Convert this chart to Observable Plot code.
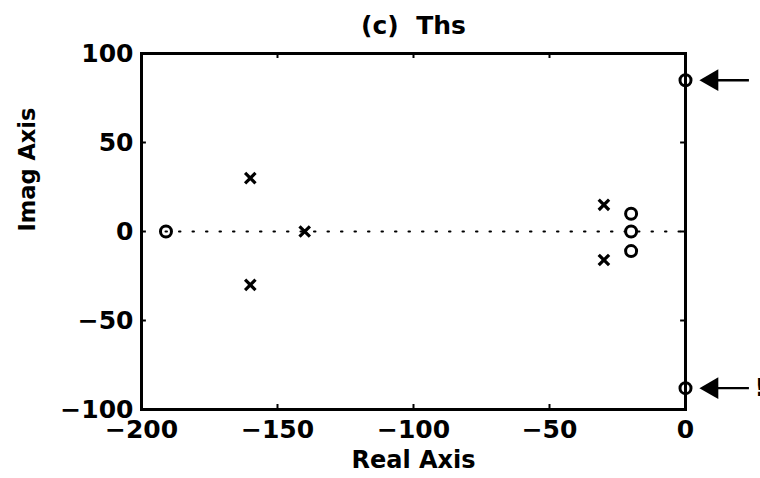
<!DOCTYPE html>
<html>
<head>
<meta charset="utf-8">
<script src="https://cdn.jsdelivr.net/npm/d3@7"></script>
<script src="https://cdn.jsdelivr.net/npm/@observablehq/plot@0.6"></script>
<style>
  html, body { margin: 0; padding: 0; background: #fff; }
  svg { display: block; }
</style>
</head>
<body>
<div id="chart"></div>
<script>
// Poles (x) and zeros (o) of "Ths"
const poleRe = [-160, -160, -140, -30, -30];
const poleIm = [30, -30, 0, 15, -16];
const zeroRe = [-191, -20, -20, -20, 0, 0];
const zeroIm = [0, 10, 0, -11, 85, -88];

// Axis ticks
const xTicks = [-200, -150, -100, -50, 0];
const yTicks = [-100, -50, 0, 50, 100];
const xTickLabels = ["\u2212200", "\u2212150", "\u2212100", "\u221250", "0"];
const yTickLabels = ["\u2212100", "\u221250", "0", "50", "100"];

// Annotation arrows pointing at the imaginary-axis zeros
const arrowIm = [85, -88];
const arrowNote = ["", "!"];

const title = "(c)  Ths";
const xLabel = "Real Axis";
const yLabel = "Imag Axis";

const poles = poleRe.map((re, i) => ({re, im: poleIm[i]}));
const zeros = zeroRe.map((re, i) => ({re, im: zeroIm[i]}));
const arrows = arrowIm.map((im, i) => ({re: 0, im, note: arrowNote[i]}));
const font = "'DejaVu Sans', 'Liberation Sans', Arial, sans-serif";
const xFmt = d => xTickLabels[xTicks.indexOf(d)];
const yFmt = d => yTickLabels[yTicks.indexOf(d)];
const innerX = xTicks.slice(1, -1);
const innerY = yTicks.slice(1, -1);

const chart = Plot.plot({
  width: 760,
  height: 478,
  marginLeft: 141,
  marginRight: 75,
  marginTop: 53,
  marginBottom: 69,
  style: {fontFamily: font, background: "#fff", color: "#000", overflow: "visible"},
  x: {type: "linear", domain: [-200, 0], axis: null, label: null},
  y: {type: "linear", domain: [-100, 100], axis: null, label: null},
  marks: [
    // dotted real axis
    Plot.ruleY([0], {x1: d3.min(zeroRe.concat(poleRe)), x2: 0, stroke: "#000", strokeWidth: 2, strokeDasharray: "1.5,12", strokeLinecap: "round"}),
    // inward tick marks on all four sides
    Plot.ruleX(innerX, {x: d => d, y1: -100, y2: -97.2, stroke: "#000", strokeWidth: 2}),
    Plot.ruleX(innerX, {x: d => d, y1: 100, y2: 97.2, stroke: "#000", strokeWidth: 2}),
    Plot.ruleY(innerY, {y: d => d, x1: -200, x2: -198.2, stroke: "#000", strokeWidth: 2}),
    Plot.ruleY(innerY, {y: d => d, x1: 0, x2: -1.8, stroke: "#000", strokeWidth: 2}),
    Plot.frame({stroke: "#000", strokeWidth: 3}),
    Plot.axisX(xTicks, {anchor: "bottom", tickSize: 0, tickPadding: 11, tickFormat: xFmt, fontSize: 25, fontWeight: "bold", label: null}),
    Plot.axisY(yTicks, {anchor: "left", tickSize: 0, tickPadding: 8, tickFormat: yFmt, fontSize: 25, fontWeight: "bold", label: null}),
    // poles and zeros
    Plot.dot(poles, {x: "re", y: "im", symbol: "times", r: 4.8, stroke: "#000", strokeWidth: 3.2}),
    Plot.dot(zeros, {x: "re", y: "im", symbol: "circle", r: 5.5, stroke: "#000", strokeWidth: 3, fill: "none"}),
    // arrows
    Plot.ruleY(arrows, {y: "im", x1: d => d.re + 9, x2: d => d.re + 23.5, stroke: "#000", strokeWidth: 2.4}),
    Plot.dot(arrows, {x: "re", y: "im", dx: 26.5, symbol: "triangle", rotate: -90, r: 8.1, fill: "#000", stroke: "none"}),
    Plot.text(arrows, {x: "re", y: "im", text: "note", dx: 69, textAnchor: "start", lineAnchor: "middle", fontSize: 25, fontWeight: "bold", fill: "#000"}),
    // labels
    Plot.text([title], {frameAnchor: "top", dy: -28, lineAnchor: "middle", fontSize: 25, fontWeight: "bold"}),
    Plot.text([xLabel], {frameAnchor: "bottom", dy: 51, lineAnchor: "middle", fontSize: 24, fontWeight: "bold"}),
    Plot.text([yLabel], {frameAnchor: "left", dx: -114, lineAnchor: "middle", rotate: -90, fontSize: 22.5, fontWeight: "bold"})
  ]
});
document.getElementById("chart").appendChild(chart);
</script>
</body>
</html>
